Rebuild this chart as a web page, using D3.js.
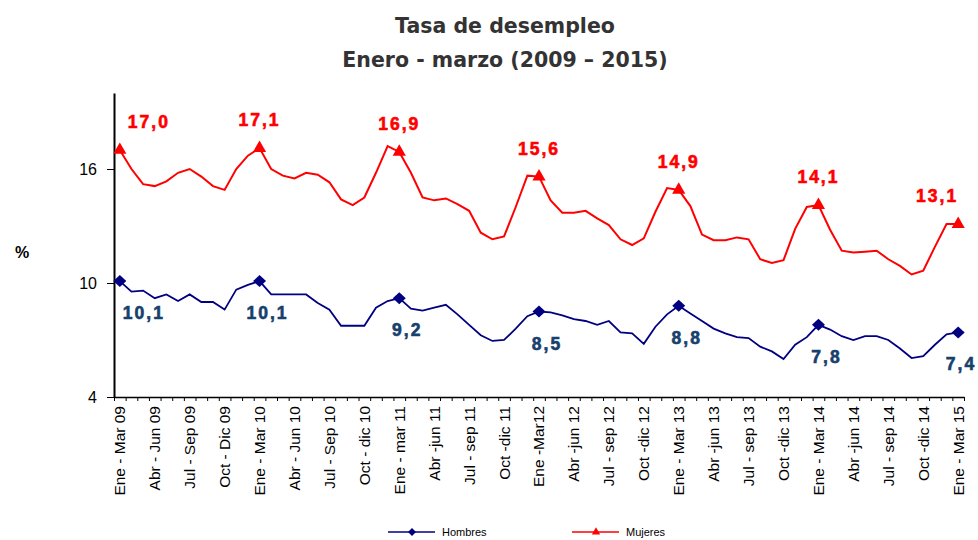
<!DOCTYPE html>
<html>
<head>
    <meta charset="UTF-8">
    <title>Tasa de desempleo</title>
    <style>
        body { margin: 0; background: #fff; }
        .title {
            font: bold 20.5px "DejaVu Sans", sans-serif;
            fill: #333;
            text-anchor: middle;
        }
        .axis-label { font: 15.5px "Liberation Sans", Arial, sans-serif; fill: #000; }
        .val { font: bold 17.5px "Liberation Sans", Arial, sans-serif; letter-spacing: 2px; stroke-width: 0.6px; }
        .legend { font: 11px "Liberation Sans", Arial, sans-serif; fill: #000; }
    </style>
    <script src="https://d3js.org/d3.v7.min.js"></script>
</head>
<body>
<div id="chart"></div>
<script>
    // quarter labels shown on the axis (one every three monthly rolling quarters)
    const quarterLabels = [
        "Ene - Mar 09", "Abr - Jun 09", "Jul - Sep 09", "Oct - Dic 09",
        "Ene - Mar 10", "Abr - Jun 10", "Jul - Sep 10", "Oct - dic 10",
        "Ene - mar 11", "Abr -jun 11", "Jul - sep 11", "Oct -dic 11",
        "Ene -Mar12", "Abr -jun 12", "Jul - sep 12", "Oct -dic 12",
        "Ene - Mar 13", "Abr -jun 13", "Jul - sep 13", "Oct -dic 13",
        "Ene - Mar 14", "Abr -jun 14", "Jul - sep 14", "Oct -dic 14",
        "Ene - Mar 15"
    ];

    // monthly rolling quarters, Ene-Mar 09 .. Ene-Mar 15 (73 values)
    const hombres = [
        10.1, 9.55, 9.6, 9.2, 9.4, 9.05, 9.4, 9.0, 9.0, 8.6, 9.65, 9.9,
        10.1, 9.4, 9.4, 9.4, 9.4, 8.95, 8.6, 7.75, 7.75, 7.75, 8.7, 9.05,
        9.2, 8.65, 8.55, 8.7, 8.85, 8.35, 7.8, 7.25, 6.95, 7.0, 7.6, 8.25,
        8.5, 8.45, 8.3, 8.1, 8.0, 7.8, 8.0, 7.4, 7.35, 6.8, 7.7, 8.35,
        8.8, 8.4, 8.0, 7.6, 7.35, 7.15, 7.1, 6.65, 6.4, 6.0, 6.75, 7.15,
        7.8, 7.55, 7.2, 7.0, 7.2, 7.2, 7.0, 6.55, 6.05, 6.15, 6.75, 7.3,
        7.4
    ];
    const mujeres = [
        17.0, 16.0, 15.2, 15.1, 15.35, 15.8, 16.0, 15.6, 15.1, 14.9, 16.0, 16.7,
        17.1, 16.0, 15.65, 15.5, 15.8, 15.7, 15.3, 14.4, 14.1, 14.5, 15.8, 17.2,
        16.9, 15.8, 14.5, 14.35, 14.45, 14.15, 13.8, 12.65, 12.3, 12.45, 14.0, 15.65,
        15.6, 14.35, 13.7, 13.7, 13.8, 13.4, 13.05, 12.3, 12.0, 12.35, 13.75, 15.0,
        14.9, 14.05, 12.55, 12.25, 12.25, 12.4, 12.3, 11.25, 11.05, 11.2, 12.85, 14.0,
        14.1, 12.8, 11.7, 11.6, 11.65, 11.7, 11.25, 10.9, 10.45, 10.65, 11.9, 13.1,
        13.1
    ];
    const yTicks = [4, 10, 16];
    const markEvery = 12; // markers and values on each Ene - Mar

    const width = 978, height = 540;
    const margin = {top: 93, right: 14, bottom: 143, left: 114};

    const svg = d3.select("#chart").append("svg")
        .attr("width", width)
        .attr("height", height);

    const n = hombres.length;
    const x = d3.scaleBand()
        .domain(d3.range(n))
        .range([margin.left, width - margin.right]);
    const cx = i => x(i) + x.bandwidth() / 2;

    const y = d3.scaleLinear()
        .domain([4, 20])
        .range([height - margin.bottom, margin.top]);

    // Title
    svg.append("text").attr("class", "title").attr("x", 505).attr("y", 33).text("Tasa de desempleo");
    svg.append("text").attr("class", "title").attr("x", 505).attr("y", 67).text("Enero - marzo (2009 \u2013 2015)");

    // Y axis
    const yAxis = svg.append("g")
        .attr("transform", `translate(${margin.left},0)`)
        .call(d3.axisLeft(y).tickValues(yTicks).tickSize(7).tickSizeOuter(0).tickPadding(10));
    yAxis.select(".domain").attr("stroke", "#000").attr("stroke-width", 2);
    yAxis.selectAll("text").attr("class", "axis-label").style("font-size", "16px");
    svg.append("text")
        .attr("x", 22).attr("y", 258)
        .attr("text-anchor", "middle")
        .style("font", "bold 16px 'Liberation Sans', Arial, sans-serif")
        .text("%");

    // X axis: tick marks at category boundaries
    const edges = d3.scaleLinear().domain([0, n]).range(x.range());
    svg.append("g")
        .attr("transform", `translate(0,${y(4)})`)
        .call(d3.axisBottom(edges).tickValues(d3.range(n + 1)).tickFormat("").tickSize(4).tickSizeOuter(0))
        .call(g => g.select(".domain").attr("stroke", "#000").attr("stroke-width", 1.5));

    // X axis labels
    const xAxis = svg.append("g")
        .attr("transform", `translate(0,${y(4)})`)
        .call(d3.axisBottom(x)
            .tickValues(d3.range(0, n, 3))
            .tickFormat(i => quarterLabels[i / 3])
            .tickSize(0));
    xAxis.select(".domain").remove();
    xAxis.selectAll("text")
        .attr("class", "axis-label")
        .attr("transform", "rotate(-90)")
        .attr("x", -9)
        .attr("y", 0)
        .attr("dy", "0.35em")
        .attr("text-anchor", "end");

    // Lines
    const line = d3.line().x((d, i) => cx(i)).y(d => y(d));
    svg.append("path").datum(mujeres)
        .attr("fill", "none").attr("stroke", "#FF0000").attr("stroke-width", 2)
        .attr("d", line);
    svg.append("path").datum(hombres)
        .attr("fill", "none").attr("stroke", "#000080").attr("stroke-width", 1.8)
        .attr("d", line);

    const marked = d3.range(0, n, markEvery);
    const tri = d3.symbol().type(d3.symbolTriangle).size(75);
    const dia = "M0,-6L6.5,0L0,6L-6.5,0Z";

    svg.selectAll(".m-mark").data(marked).enter()
        .append("path").attr("class", "m-mark")
        .attr("d", tri)
        .attr("fill", "#FF0000")
        .attr("transform", i => `translate(${cx(i)},${y(mujeres[i])})`);
    svg.selectAll(".h-mark").data(marked).enter()
        .append("path").attr("class", "h-mark")
        .attr("d", dia)
        .attr("fill", "#000080")
        .attr("transform", i => `translate(${cx(i)},${y(hombres[i])})`);

    const fmt = v => d3.format(".1f")(v).replace(".", ",");
    const anchor = i => i === 0 ? "start" : (i === n - 1 ? "end" : "middle");

    svg.selectAll(".m-val").data(marked).enter()
        .append("text").attr("class", "val m-val")
        .attr("fill", "#FF0000").attr("stroke", "#FF0000")
        .attr("text-anchor", anchor)
        .attr("x", i => cx(i) + (i === 0 ? 8 : 0))
        .attr("y", i => y(mujeres[i]) - 22)
        .text(i => fmt(mujeres[i]));
    svg.selectAll(".h-val").data(marked).enter()
        .append("text").attr("class", "val h-val")
        .attr("fill", "#17406D").attr("stroke", "#17406D")
        .attr("text-anchor", anchor)
        .attr("x", i => cx(i) + (i === 0 ? 3 : (i === n - 1 ? 18 : 8)))
        .attr("y", i => y(hombres[i]) + 38)
        .text(i => fmt(hombres[i]));

    // Legend
    const legendItems = [
        {name: "Hombres", color: "#000080", shape: dia, x: 388},
        {name: "Mujeres", color: "#FF0000", shape: tri, x: 572}
    ];
    const lg = svg.selectAll(".lg").data(legendItems).enter()
        .append("g").attr("class", "lg")
        .attr("transform", d => `translate(${d.x},532)`);
    lg.append("line").attr("x1", 0).attr("x2", 47)
        .attr("stroke", d => d.color).attr("stroke-width", 1.5);
    lg.append("path")
        .attr("d", d => d.shape === dia ? "M0,-4L4,0L0,4L-4,0Z" : d3.symbol().type(d3.symbolTriangle).size(30)())
        .attr("transform", "translate(24,0)")
        .attr("fill", d => d.color);
    lg.append("text").attr("class", "legend")
        .attr("x", 54).attr("dy", "0.35em")
        .text(d => d.name);
</script>
</body>
</html>
